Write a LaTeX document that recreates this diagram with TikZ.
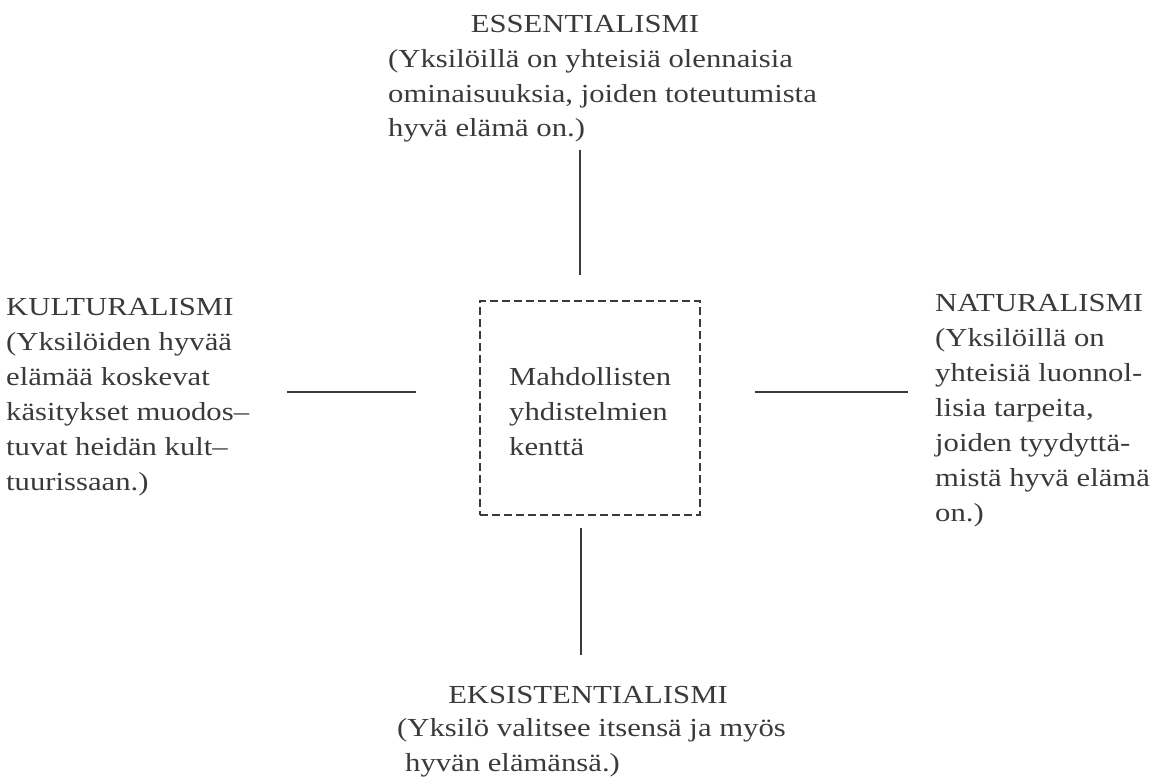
\documentclass[tikz,border=0pt]{standalone}
\usepackage{fontspec}
\setmainfont[FakeStretch=1.18]{Liberation Serif}
\definecolor{ink}{HTML}{3A3A3A}
\begin{document}
\begin{tikzpicture}[x=1pt,y=-1pt,
  every node/.style={inner sep=0pt, text=ink, font=\fontsize{26}{35}\selectfont},
  title/.style={anchor=base},
  lefttitle/.style={anchor=base west},
  % multi-line blocks are placed by the baseline of their last line
  desc/.style={anchor=base west, align=left},
  rule/.style={draw=ink, line width=1.8pt},
  field/.style={draw=ink, line width=1.6pt, dash pattern=on 8pt off 4pt,
    minimum width=220pt, minimum height=214pt}]
\useasboundingbox (0,0) rectangle (1167,781);

% central field
\node[field] (box) at (590,408) {};
\node[desc] (boxt) at (509,455) {Mahdollisten\\yhdistelmien\\kenttä};

% top
\node[title] (ess) at (585,33) {ESSENTIALISMI};
\node[desc] (essd) at (388,137) {(Yksilöillä on yhteisiä olennaisia\\ominaisuuksia, joiden toteutumista\\hyvä elämä on.)};

% left
\node[lefttitle] (kul) at (6,315) {KULTURALISMI};
\node[desc] (kuld) at (6,490) {(Yksilöiden hyvää\\elämää koskevat\\käsitykset muodos--\\tuvat heidän kult--\\tuurissaan.)};

% right
\node[lefttitle] (nat) at (935,311) {NATURALISMI};
\node[desc] (natd) at (935,521) {(Yksilöillä on\\yhteisiä luonnol-\\lisia tarpeita,\\joiden tyydyttä-\\mistä hyvä elämä\\on.)};

% bottom
\node[title] (eks) at (588,703) {EKSISTENTIALISMI};
\node[desc] (eksd) at (397,771) {(Yksilö valitsee itsensä ja myös\\\hspace*{8pt}hyvän elämänsä.)};

% connector ends
\coordinate (ta) at (580,150);
\coordinate (tb) at (580,275);
\coordinate (ba) at (581,528);
\coordinate (bb) at (581,655);
\coordinate (la) at (287,392);
\coordinate (lb) at (416,392);
\coordinate (ra) at (755,392);
\coordinate (rb) at (908,392);

\draw[rule] (ta) -- (tb);
\draw[rule] (ba) -- (bb);
\draw[rule] (la) -- (lb);
\draw[rule] (ra) -- (rb);
\end{tikzpicture}
\end{document}
